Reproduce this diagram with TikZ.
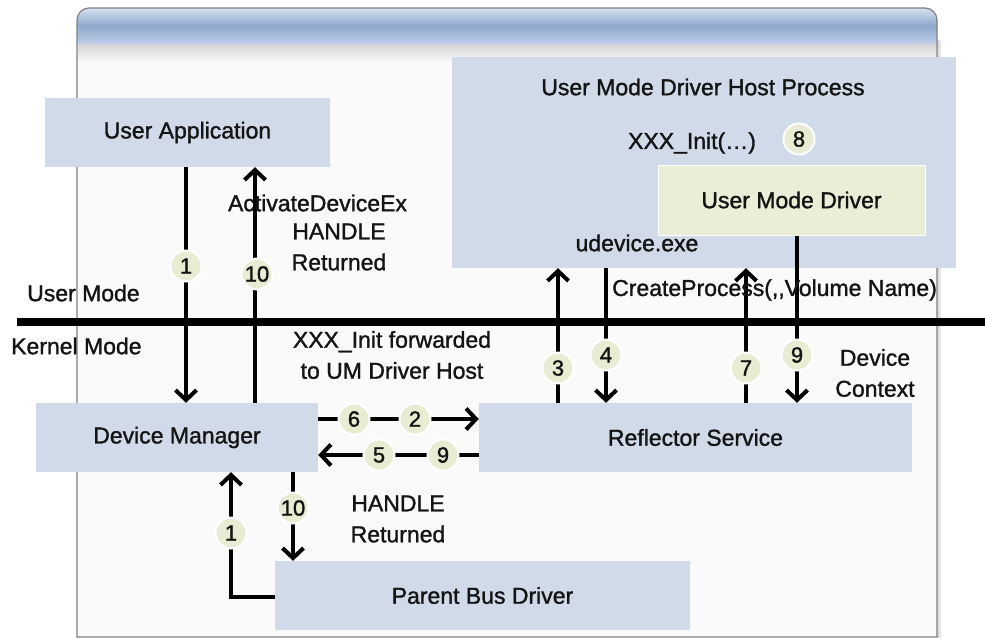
\documentclass[tikz,border=0pt]{standalone}
\usepackage{fontspec}
\setmainfont[FakeBold=1.3]{Liberation Sans}
\usetikzlibrary{arrows.meta}
\definecolor{boxblue}{RGB}{208,218,232}
\definecolor{drvgreen}{RGB}{235,238,214}
\definecolor{numfill}{RGB}{232,236,210}
\definecolor{framegray}{RGB}{128,128,128}
\definecolor{inkblack}{RGB}{20,20,20}
\definecolor{barlight}{RGB}{214,225,240}
\definecolor{barmid}{RGB}{143,168,206}
\definecolor{barlow}{RGB}{188,205,230}
\tikzset{
  box/.style={fill=boxblue, inner sep=0pt, font=\fontsize{23}{28}\selectfont, text=inkblack},
  label/.style={inner sep=0pt, align=center, font=\fontsize{23}{31}\selectfont, text=inkblack},
  num/.style={circle, fill=numfill, draw=white, line width=2pt, minimum size=31pt, inner sep=0pt,
              font=\fontsize{22}{22}\selectfont, text=inkblack},
  arr/.style={line width=4pt, draw=black, -{Straight Barb[length=10pt,width=21pt,line width=4pt]}},
}
\begin{document}
\begin{tikzpicture}[x=1pt,y=-1pt]
\useasboundingbox (0,0) rectangle (985,638);

% application window: body, title bar and frame
\fill[white!98!black] (77,43) rectangle (937,637);
\shade[top color=black!18, bottom color=white!98!black] (78,43) rectangle (936,62);
\shade[left color=black!18, right color=white] (937,40) rectangle (942,637);
\path[top color=barlight, bottom color=barlow, middle color=barmid]
  (77,43) -- (77,20) arc[start angle=180, end angle=270, radius=12]
  -- (925,8) arc[start angle=270, end angle=360, radius=12] -- (937,43) -- cycle;
\draw[framegray, line width=1.2pt]
  (77,637) -- (77,20) arc[start angle=180, end angle=270, radius=12]
  -- (925,8) arc[start angle=270, end angle=360, radius=12] -- (937,637) -- cycle;
\draw[white!80!blue, line width=1pt] (78,43) -- (936,43);

% boundary between user mode and kernel mode
\draw[line width=8pt, black] (17,322) -- (985,322);
\node[label, anchor=west] (um) at (27,293) {User Mode};
\node[label, anchor=west] (km) at (11,346) {Kernel Mode};

% components
\node[box, minimum width=285pt, minimum height=69pt] (ua) at (187.5,132.5) {User Application};
\node[box, minimum width=504pt, minimum height=211pt] (host) at (704,162.5) {};
\node[label] (hosttitle) at (703,87) {User Mode Driver Host Process};
\node[label] (xinit) at (692,143) {XXX\_Init(\ldots)};
\node[box, fill=drvgreen, draw=white, line width=1pt, minimum width=267pt, minimum height=70pt] (umd) at (791.5,200) {User Mode Driver};
\node[label] (udev) at (637,243) {udevice.exe};
\node[box, minimum width=282pt, minimum height=69pt] (dm) at (177,437.5) {Device Manager};
\node[box, minimum width=433pt, minimum height=69pt] (rs) at (695.5,437.5) {Reflector Service};
\node[box, minimum width=415pt, minimum height=69pt] (pbd) at (482.5,595.5) {Parent Bus Driver};

% user application <-> device manager
\draw[arr] (186,0 |- ua.south) -- (186,0 |- dm.north);
\draw[arr] (255,0 |- dm.north) -- (255,0 |- ua.south);

% device manager <-> reflector service
\draw[arr] (dm.east |- 0,419) -- (rs.west |- 0,419);
\draw[arr] (rs.west |- 0,455) -- (dm.east |- 0,455);

% reflector service <-> host process
\draw[arr] (558,0 |- rs.north) -- (558,0 |- host.south);
\draw[arr] (606,0 |- host.south) -- (606,0 |- rs.north);
\draw[arr] (746,0 |- rs.north) -- (746,0 |- host.south);
\draw[arr] (797,0 |- umd.south) -- (797,0 |- rs.north);

% device manager <-> parent bus driver
\coordinate (bend) at (231,597);
\draw[arr] (pbd.west |- bend) -- (bend) -- (bend |- dm.south);
\draw[arr] (293,0 |- dm.south) -- (293,0 |- pbd.north);

% call labels
\node[label] (actdev) at (317.5,203) {ActivateDeviceEx};
\node[label] (handle1) at (339,247) {HANDLE\\Returned};
\node[label] (fwd) at (392,355) {XXX\_Init forwarded\\to UM Driver Host};
\node[label, anchor=west] (cproc) at (612,290) {CreateProcess(,{},Volume Name)};
\node[label] (devctx) at (875,373) {Device\\Context};
\node[label] (handle2) at (398,519) {HANDLE\\Returned};

% step numbers
\node[num] (s1a) at (186,266) {1};
\node[num] (s10a) at (257,274) {10};
\node[num] (s8) at (799,139) {8};
\node[num] (s6) at (354,419) {6};
\node[num] (s2) at (415,419) {2};
\node[num] (s5) at (379,455) {5};
\node[num] (s9a) at (443,455) {9};
\node[num] (s3) at (558,368) {3};
\node[num] (s4) at (606,355) {4};
\node[num] (s7) at (746,368) {7};
\node[num] (s9b) at (797,355) {9};
\node[num] (s1b) at (231,533) {1};
\node[num] (s10b) at (293,508) {10};
\end{tikzpicture}
\end{document}
